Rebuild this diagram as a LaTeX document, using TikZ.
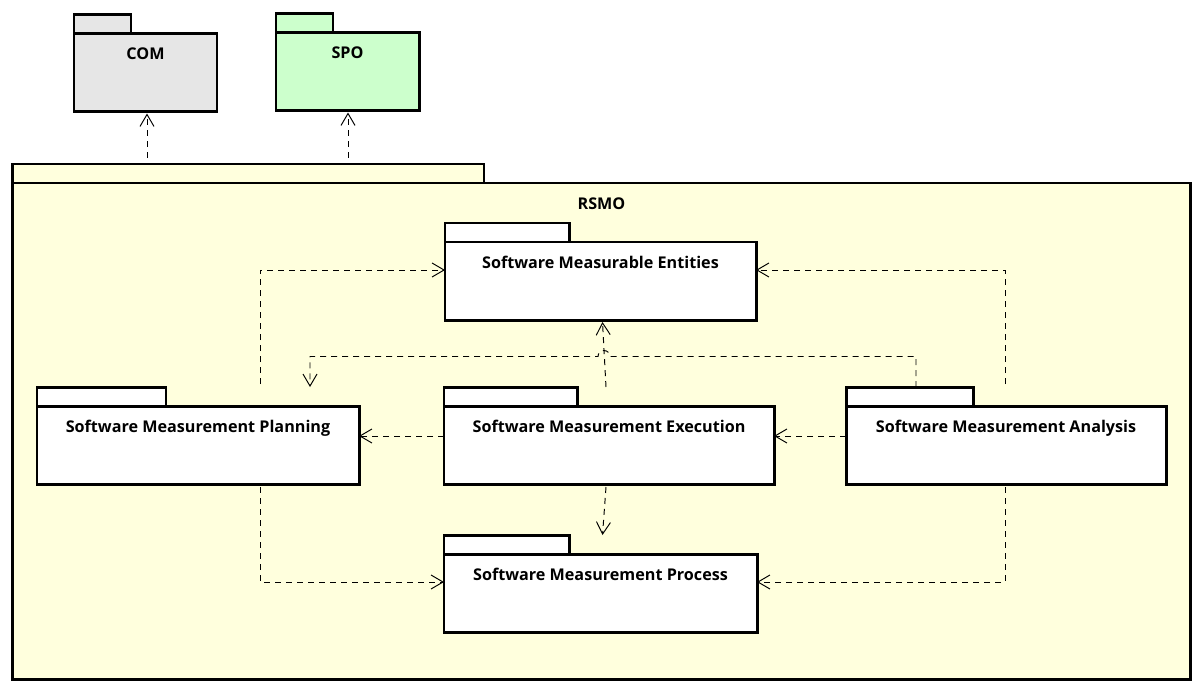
\documentclass[tikz,border=0pt]{standalone}
\usepackage{fontspec}
\setmainfont{Open Sans}
\usetikzlibrary{arrows.meta,calc,positioning}
\definecolor{comgray}{HTML}{E6E6E6}
\definecolor{spogreen}{HTML}{CCFFCC}
\definecolor{rsmoyellow}{HTML}{FFFFDD}
\tikzset{font=\fontsize{9.2}{11}\selectfont\bfseries}
\tikzstyle{pkg}=[draw,line width=1.7pt,fill=white,inner sep=0pt,outer sep=0pt,text height=5.2mm,text depth=10.4mm]
\tikzstyle{tab}=[draw,line width=1.7pt,fill=white,inner sep=0pt,outer sep=0pt,minimum height=3.8mm,anchor=south west]
\tikzstyle{dep}=[dash pattern=on 1.2mm off 1mm,line width=0.55pt,-{Straight Barb[length=2.4mm,width=2.8mm]}]

\begin{document}
\begin{tikzpicture}[x=0.2mm,y=-0.2mm]
\useasboundingbox (0,0) rectangle (1204,692);
\node[pkg,fill=rsmoyellow,minimum width=235.4mm,text depth=94mm] (rsmo) at (601.5,431) {RSMO};
\node[tab,fill=rsmoyellow,minimum width=94.2mm] (rsmotab) at (rsmo.north west) {};
\node[pkg,fill=comgray,minimum width=28.6mm] (com) at (145.5,72.5) {COM};
\node[tab,fill=comgray,minimum width=11.4mm] (comtab) at (com.north west) {};
\node[pkg,fill=spogreen,minimum width=28.6mm] (spo) at (347.5,71.5) {SPO};
\node[tab,fill=spogreen,minimum width=11.4mm] (spotab) at (spo.north west) {};
\node[pkg,minimum width=62.2mm] (ent) at (600.5,281) {Software Measurable Entities};
\node[tab,minimum width=24.8mm] (enttab) at (ent.north west) {};
\node[pkg,minimum width=64.4mm] (plan) at (198,445) {Software Measurement Planning};
\node[tab,minimum width=25.8mm] (plantab) at (plan.north west) {};
\node[pkg,minimum width=66mm] (exe) at (609,445) {Software Measurement Execution};
\node[tab,minimum width=26.6mm] (exetab) at (exe.north west) {};
\node[pkg,minimum width=64mm] (ana) at (1006,445) {Software Measurement Analysis};
\node[tab,minimum width=25.4mm] (anatab) at (ana.north west) {};
\node[pkg,minimum width=62.6mm] (proc) at (600.5,593) {Software Measurement Process};
\node[tab,minimum width=25mm] (proctab) at (proc.north west) {};
\draw[dep] ($(rsmotab.north -| com.south)+(1.5,-6)$) -- ($(com.south)+(1.5,2)$);
\draw[dep] ($(rsmotab.north -| spo.south)+(0.5,-6)$) -- ($(spo.south)+(0.5,2)$);
\draw[dep] ($(plan.north)+(62,-22)$) |- ([yshift=2.2mm]ent.west);
\draw[dep] ($(ana.north)+(-1,-22)$) |- ([yshift=2.2mm]ent.east);
\draw[dep] ($(plan.south)+(62,3)$) |- ([yshift=2.2mm]proc.west);
\draw[dep] ($(ana.south)+(-1,3)$) |- ([yshift=2.2mm]proc.east);
\draw[dep] ([yshift=1.8mm]exe.west) -- ([yshift=1.8mm]plan.east);
\draw[dep] ([yshift=1.8mm]ana.west) -- ([yshift=1.8mm]exe.east);
\draw[dep] ($(exe.north)+(-3,-19)$) -- ($(ent.south)+(2,2)$);
\draw[dep] ($(exe.south)+(-3,3)$) -- ($(proc.north)+(2,-19)$);
\draw[dep] ($(ana.north)+(-90,-19)$) |- ($(ent.south)+(9.5,36.5)$)
  arc[start angle=0,end angle=180,radius=1.2mm] -| ($(plan.north)+(112,-19)$);
\end{tikzpicture}
\end{document}
